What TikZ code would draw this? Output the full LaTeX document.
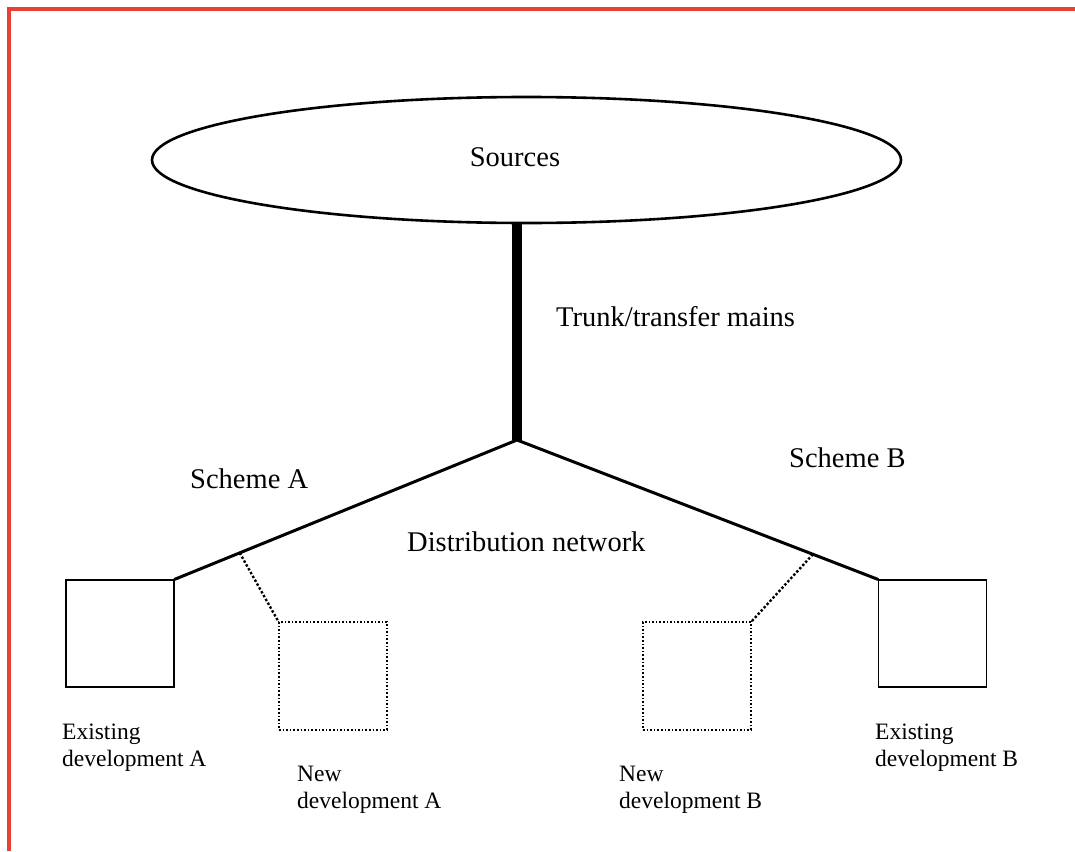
\documentclass[tikz,border=0pt]{standalone}
\usepackage{fontspec}
\setmainfont{Liberation Serif}
\usetikzlibrary{shapes.geometric,calc}
\definecolor{framered}{RGB}{232,65,50}

\begin{document}
\begin{tikzpicture}[x=1pt,y=-1pt,
	every node/.style={font=\fontsize{23.5}{27}\selectfont},
	lbl/.style={anchor=west,inner sep=0pt,align=left},
	big/.style={font=\fontsize{28.5}{32}\selectfont},
	oldbox/.style={draw=black,line width=1.3pt,minimum width=108pt,minimum height=107pt,inner sep=0pt},
	newbox/.style={draw=black,line width=1.6pt,dotted,minimum width=108pt,minimum height=108pt,inner sep=0pt},
	main/.style={line width=3pt},
	spur/.style={line width=2.4pt,dotted}]
\useasboundingbox (0,0) rectangle (1075,851);
\draw[framered,line width=4pt] (9,851) -- (9,9) -- (1075,9);
\node[ellipse,draw=black,line width=2.6pt,minimum width=749pt,minimum height=126pt,inner sep=0pt] (src) at (526.5,160) {};
\node[big,inner sep=0pt] (srct) at (515,157) {Sources};
\coordinate (jn) at (517,440);
\node[oldbox] (exA) at (120,633.5) {};
\node[oldbox] (exB) at (932.5,633.5) {};
\node[newbox] (nwA) at (333,676) {};
\node[newbox] (nwB) at (697,676) {};
\draw[line width=10pt] (src.south) ++(-9.5,0) coordinate (tk) -- (tk |- jn);
\draw[main,line cap=round] (exA.north east) -- (jn) -- (exB.north west);
\coordinate (brA) at ($(jn)!0.81!(exA.north east)$);
\coordinate (brB) at ($(jn)!0.82!(exB.north west)$);
\draw[spur] (brA) -- (nwA.north west);
\draw[spur] (brB) -- (nwB.north east);
\node[lbl,big] (tl) at (556,317) {Trunk/transfer mains};
\node[lbl,big] (sA) at (190,479) {Scheme A};
\node[lbl,big] (sB) at (789,458) {Scheme B};
\node[lbl,big] (dn) at (407,542) {Distribution network};
\node[lbl] (lA) at (62,748) {Existing\\development A};
\node[lbl] (lB) at (875,748) {Existing\\development B};
\node[lbl] (mA) at (297,790) {New\\development A};
\node[lbl] (mB) at (619,790) {New\\development B};
\end{tikzpicture}
\end{document}
